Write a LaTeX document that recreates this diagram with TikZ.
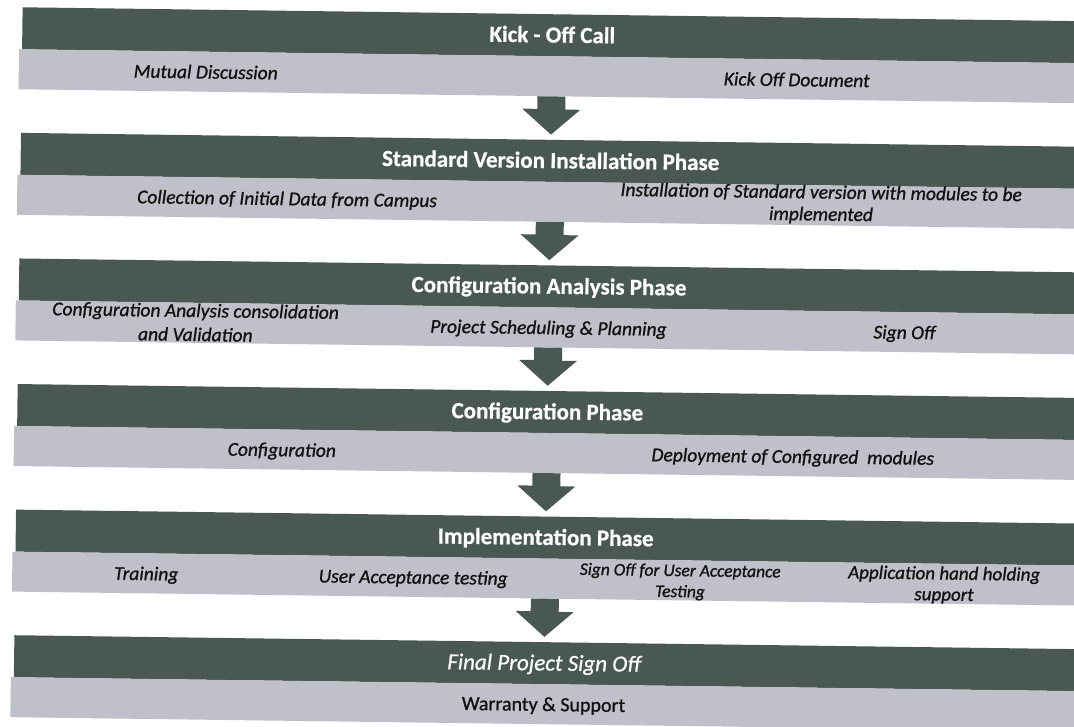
\documentclass[tikz,border=0pt]{standalone}
\usepackage{fontspec}
\setmainfont{Carlito}
\newfontfamily\subfnt{Carlito}[FakeBold=1.0]
\newfontfamily\headfnt{Carlito}[FakeBold=0.6]
\usetikzlibrary{calc}
\definecolor{darkband}{HTML}{4A5854}
\definecolor{lightband}{HTML}{C0C0CA}
\definecolor{subink}{HTML}{111111}
\newcommand\twoln[2]{\begin{tabular}[t]{@{}c@{}}#1\\#2\end{tabular}}
\newcommand\blockarr[2]{%
  \fill[blockarrow] (#1.south) ++(-14,0) -- ++(28,0) -- ++(0,13) -- ++(15,0)
    -- ($(#2.north)!5pt!(#1.south)$) -- ++(-29,-25.6) -- ++(15,0) -- cycle;}
\begin{document}
\begin{tikzpicture}[x=1pt,y=-1pt,
  headbar/.style={rectangle, fill=darkband, draw=none, minimum width=1060pt, minimum height=42pt, inner sep=0pt, anchor=north},
  subbar/.style={rectangle, fill=lightband, draw=none, minimum width=1066pt, minimum height=40pt, inner sep=0pt, anchor=north},
  headtext/.style={anchor=base, inner sep=0pt, text=white, font=\headfnt\fontsize{23}{27}\selectfont\bfseries},
  subtext/.style={anchor=base, inner sep=0pt, text=subink, font=\subfnt\fontsize{19.5}{24}\selectfont\itshape},
  tightsub/.style={subtext, font=\subfnt\fontsize{19.5}{22}\selectfont\itshape},
  smallsub/.style={subtext, font=\subfnt\fontsize{17.5}{21}\selectfont\itshape},
  midsub/.style={subtext, font=\subfnt\fontsize{19}{21}\selectfont\itshape},
  blockarrow/.style={fill=darkband, draw=none}]
\fill[white] (0,0) rectangle (1074,727);
\useasboundingbox (0,0) rectangle (1074,727);
\clip (0,0) rectangle (1074,727);
\begin{scope}[rotate around={-0.75:(548,363)}, transform shape]
% bars
\node[headbar] (h1) at (548,14) {};
\node[subbar]  (s1) at (548,56) {};
\node[headbar] (h2) at (548,139.6) {};
\node[subbar]  (s2) at (548,181.6) {};
\node[headbar] (h3) at (548,265.2) {};
\node[subbar]  (s3) at (548,307.2) {};
\node[headbar] (h4) at (548,390.8) {};
\node[subbar]  (s4) at (548,432.8) {};
\node[headbar] (h5) at (548,516.4) {};
\node[subbar]  (s5) at (548,558.4) {};
\node[headbar] (h6) at (548,642) {};
\node[subbar]  (s6) at (548,684) {};
% arrows
\blockarr{s1}{h2}
\blockarr{s2}{h3}
\blockarr{s3}{h4}
\blockarr{s4}{h5}
\blockarr{s5}{h6}
% phase 1
\node[headtext] (t1) at (548,42.5) {Kick - Off Call};
\node[subtext] (t1a) at (202,83) {Mutual Discussion};
\node[subtext] (t1b) at (793,83) {Kick Off Document};
% phase 2
\node[headtext] (t2) at (548,168.1) {Standard Version Installation Phase};
\node[subtext] (t2a) at (285,208.6) {Collection of Initial Data from Campus};
\node[tightsub] (t2b) at (819,195) {\twoln{Installation of Standard version with modules to be}{implemented}};
% phase 3
\node[headtext] (t3) at (548,293.7) {Configuration Analysis Phase};
\node[subtext] (t3a) at (195,321.7) {\twoln{Configuration Analysis consolidation}{and Validation}};
\node[subtext] (t3b) at (548,334.2) {Project Scheduling \& Planning};
\node[subtext] (t3c) at (904,334.2) {Sign Off};
% phase 4
\node[headtext] (t4) at (548,419.3) {Configuration Phase};
\node[subtext] (t4a) at (283,459.8) {Configuration};
\node[subtext] (t4b) at (794,459.8) {Deployment of Configured~~modules};
% phase 5
\node[headtext] (t5) at (548,544.9) {Implementation Phase};
\node[subtext] (t5a) at (149,585.4) {Training};
\node[subtext] (t5b) at (416,585.4) {User Acceptance testing};
\node[smallsub] (t5c) at (683,574.4) {\twoln{Sign Off for User Acceptance}{Testing}};
\node[midsub] (t5d) at (947,574.4) {\twoln{Application hand holding}{support}};
% phase 6
\node[headtext, font=\headfnt\fontsize{23}{27}\selectfont\itshape] (t6) at (548,670.5) {Final Project Sign Off};
\node[subtext, font=\subfnt\fontsize{20}{24}\selectfont] (t6a) at (548,711) {Warranty \& Support};
\end{scope}
\end{tikzpicture}
\end{document}
